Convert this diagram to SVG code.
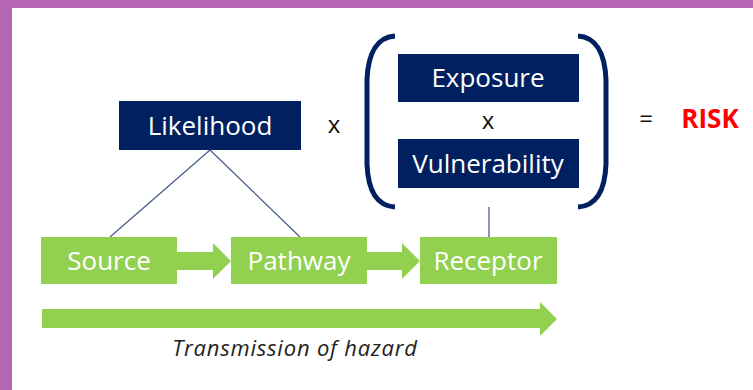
<svg xmlns="http://www.w3.org/2000/svg" width="753" height="390" viewBox="0 0 753 390">
  <style>
    .navy { fill: #002060; }
    .green { fill: #92D050; }
    .wt { fill: #FFFFFF; font-family: "Open Sans", "Noto Sans", sans-serif; font-size: 26px; text-anchor: middle; }
    .op { fill: #111111; font-family: "Open Sans", "Noto Sans", sans-serif; font-size: 24px; text-anchor: middle; }
    .conn { stroke: #4A5F8E; stroke-width: 1.3; fill: none; }
    .bracket { stroke: #002060; stroke-width: 5; fill: none; stroke-linecap: butt; }
  </style>
  <rect x="0" y="0" width="753" height="390" fill="#FFFFFF"/>
  <rect x="0" y="0" width="753" height="8" fill="#B466B4"/>
  <rect x="0" y="0" width="12" height="390" fill="#B466B4"/>

  <g id="connectors">
    <line class="conn" x1="210" y1="150" x2="110" y2="237"/>
    <line class="conn" x1="210" y1="150" x2="300" y2="237"/>
    <line class="conn" x1="489" y1="207" x2="489" y2="237"/>
    <path class="green" d="M177,252 H213 V243 L231,261 L213,279 V270 H177 Z"/>
    <path class="green" d="M367,252 H402 V243 L420,261 L402,279 V270 H367 Z"/>
  </g>

  <g id="likelihood">
    <rect class="navy" x="119" y="101" width="182" height="49"/>
    <text class="wt" x="210" y="135">Likelihood</text>
  </g>
  <g id="times1"><text class="op" x="334" y="133">x</text></g>

  <g id="brackets">
    <path class="bracket" d="M395,36 C378,37 368,52 367,80 V164 C368,192 378,206 395,207"/>
    <path class="bracket" d="M578,36 C595,37 605,52 606,80 V164 C605,192 595,206 578,207"/>
  </g>

  <g id="exposure">
    <rect class="navy" x="398" y="54" width="181" height="48"/>
    <text class="wt" x="488" y="87">Exposure</text>
  </g>
  <g id="times2"><text class="op" x="488" y="129">x</text></g>
  <g id="vulnerability">
    <rect class="navy" x="398" y="139" width="181" height="49"/>
    <text class="wt" x="488" y="173">Vulnerability</text>
  </g>

  <g id="equals"><text class="op" x="646" y="127">=</text></g>
  <g id="risk"><text x="710" y="128" fill="#FF0000" font-family="Open Sans, Noto Sans, sans-serif" font-size="26" font-weight="bold" text-anchor="middle">RISK</text></g>

  <g id="source">
    <rect class="green" x="41" y="237" width="136" height="47"/>
    <text class="wt" x="109" y="270">Source</text>
  </g>
  <g id="pathway">
    <rect class="green" x="231" y="237" width="136" height="47"/>
    <text class="wt" x="299" y="270">Pathway</text>
  </g>
  <g id="receptor">
    <rect class="green" x="420" y="237" width="137" height="47"/>
    <text class="wt" x="488" y="270">Receptor</text>
  </g>

  <g id="transmission">
    <path class="green" d="M42,309 H540 V302 L557,319 L540,336 V328 H42 Z"/>
    <text x="295" y="356" fill="#222222" font-family="Open Sans, Noto Sans, sans-serif" font-size="22" font-style="italic" letter-spacing="0.8" text-anchor="middle">Transmission of hazard</text>
  </g>
</svg>
